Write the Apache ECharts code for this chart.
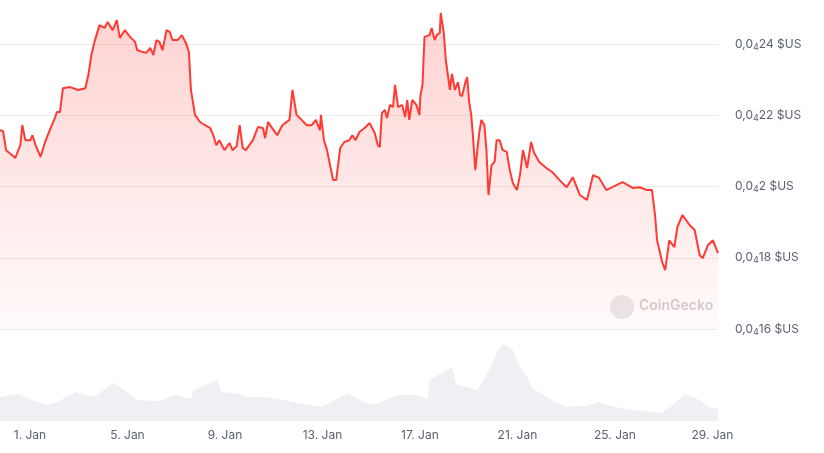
<!DOCTYPE html>
<html>
<head>
	<meta charset="utf-8">
	<title>price chart</title>
	<script src="https://cdn.jsdelivr.net/npm/echarts@6/dist/echarts.min.js"></script>
	<style>
	  html, body { margin: 0; padding: 0; background: #fff; }
	  #chart { width: 824px; height: 453px; }
	</style>
</head>
<body>
<div id="chart"></div>
<script>
	// hours since the first point (Dec 30, ~18:30), price in units of 0.000001 $US
	var startDay = -1.23;   // relative to 1 Jan 00:00
	var priceHours = [0,3,6,12,15,20,22,25,30,32,35,40,44,49,54,56,59,62,69,77,84,87,90,93,98,103,106,111,115,118,123,128,133,135,140,144,148,151,154,157,160,164,167,170,175,179,183,186,188,192,197,202,207,210,213,216,221,226,229,233,236,239,242,249,254,259,261,264,268,273,278,285,288,292,297,302,307,311,315,316,319,322,325,328,331,335,339,344,347,350,354,359,364,369,372,374,376,379,381,384,387,389,392,396,399,401,403,406,410,413,414,416,418,423,425,428,430,433,434,437,439,441,443,445,448,451,453,455,458,460,462,464,466,468,470,472,474,477,479,481,484,487,489,492,495,499,502,505,509,512,515,519,523,526,531,538,544,551,558,564,571,578,584,590,597,603,613,623,630,637,642,645,647,652,655,659,664,667,672,679,684,689,692,697,702,707];
	var priceValues = [21.58,21.56,21.02,20.88,20.8,21.16,21.72,21.3,21.3,21.44,21.16,20.83,21.22,21.58,21.92,22.09,22.09,22.76,22.79,22.71,22.76,23.13,23.69,24.06,24.53,24.45,24.62,24.39,24.67,24.17,24.39,24.2,24.06,23.83,23.78,23.75,23.89,23.69,24.11,24.06,23.83,24.39,24.34,24.11,24.11,24.25,24.03,23.78,22.71,22.01,21.81,21.72,21.64,21.44,21.16,21.3,21.02,21.22,21.02,21.13,21.72,21.08,21.02,21.3,21.67,21.64,21.36,21.81,21.64,21.44,21.72,21.87,22.71,22.01,21.87,21.72,21.72,21.87,21.58,22.01,21.3,21.02,20.6,20.18,20.18,21.08,21.25,21.3,21.44,21.3,21.53,21.64,21.78,21.5,21.16,21.11,22.06,22.15,21.92,22.29,22.23,22.85,22.23,22.29,21.95,22.43,21.87,22.43,22.29,22.01,22.57,22.85,24.2,24.25,24.45,24.11,24.25,24.31,24.87,24.31,23.55,23.13,22.71,23.16,22.71,22.93,22.57,22.54,22.9,23.07,22.37,22.01,21.3,20.46,21.02,21.53,21.87,21.72,21.02,19.76,20.6,20.69,21.3,21.3,21.02,20.97,20.46,20.1,19.9,20.32,21.02,20.52,21.25,20.94,20.69,20.52,20.4,20.18,19.98,20.26,19.76,19.62,20.32,20.24,19.9,19.98,20.12,19.96,19.98,19.9,19.9,19.2,18.49,17.88,17.65,18.49,18.3,18.86,19.2,18.92,18.78,18.07,17.99,18.35,18.49,18.13];

	var volumeHours = [0,19,28,46,56,75,93,111,121,135,158,172,188,191,205,214,218,237,242,261,279,293,317,326,342,358,368,382,391,409,421,423,433,445,449,470,474,484,491,496,505,512,519,523,530,547,558,577,590,605,624,651,660,675,689,698,707];
	var volumeValues = [24,27,22,16,19,29,24,38,32,21,20,26,22,31,37,41,29,27,24,24,21,18,14,19,28,19,16,22,26,26,22,41,47,54,37,31,37,56,72,77,71,54,44,34,29,19,14,15,19,14,11,8,14,27,21,14,12];

	var priceTicks = [16, 18, 20, 22, 24];
	var dayTicks = [0, 4, 8, 12, 16, 20, 24, 28];

	function toDays(hours, values){
		var out = [];
		for(var i = 0; i < hours.length; i++){
			out.push([startDay + hours[i] / 24, values[i]]);
		}
		return out;
	}

	var minDay = startDay, maxDay = startDay + 707 / 24;

	var option = {
		animation: false,
		grid: [
			{left: 0, right: 106, top: 44, bottom: 124},
			{left: 0, right: 106, top: 330, bottom: 32}
		],
		xAxis: [
			{
				type: 'value', gridIndex: 0, min: minDay, max: maxDay,
				axisLine: {show: false}, axisTick: {show: false},
				axisLabel: {show: false}, splitLine: {show: false}
			},
			{
				type: 'value', gridIndex: 1, min: minDay, max: maxDay,
				axisLine: {show: false},
				axisTick: {show: true, customValues: dayTicks, length: 5, inside: true, lineStyle: {color: '#e6e8ec'}},
				axisLabel: {
					customValues: dayTicks, color: '#5a6170', fontSize: 12,
					fontFamily: 'Inter', margin: 8,
					formatter: function(d){ return (d + 1) + '. Jan'; }
				},
				splitLine: {show: false}
			}
		],
		yAxis: [
			{
				type: 'value', gridIndex: 0, position: 'right', min: 16, max: 24, interval: 2,
				axisLine: {show: false}, axisTick: {show: false},
				splitLine: {lineStyle: {color: '#ececec'}},
				axisLabel: {
					margin: 17, color: '#5a6170', fontFamily: 'Inter', fontSize: 12,
					verticalAlign: 'middle',
					formatter: function(v){ return '0,0{s|4}' + String(v).replace(/0$/, '') + ' $US'; },
					rich: {s: {fontSize: 9, verticalAlign: 'bottom', padding: [6, 0, 0, 0], color: '#5a6170', fontFamily: 'Inter'}}
				}
			},
			{
				type: 'value', gridIndex: 1, min: 0, max: 91,
				axisLine: {show: false}, axisTick: {show: false},
				axisLabel: {show: false}, splitLine: {show: false}
			}
		],
		graphic: [
			{type: 'circle', left: 610, top: 295, shape: {r: 12}, style: {fill: '#e9e9e9'}},
			{type: 'text', left: 639, top: 299, style: {text: 'CoinGecko', fill: '#d0d0d0', font: '600 14px Inter'}}
		],
		series: [
			{
				type: 'line', xAxisIndex: 1, yAxisIndex: 1,
				data: toDays(volumeHours, volumeValues),
				symbol: 'none', lineStyle: {width: 0},
				areaStyle: {color: '#eef0f4', opacity: 1}
			},
			{
				type: 'line', xAxisIndex: 0, yAxisIndex: 0, clip: false,
				data: toDays(priceHours, priceValues),
				symbol: 'none',
				lineStyle: {color: '#ff3a33', width: 2},
				areaStyle: {
					origin: 'start',
					color: new echarts.graphic.LinearGradient(0, 0, 0, 1, [
						{offset: 0, color: 'rgba(255,58,51,0.32)'},
						{offset: 1, color: 'rgba(255,58,51,0.03)'}
					])
				}
			}
		]
	};

	var myChart = echarts.init(document.getElementById('chart'));
	myChart.setOption(option);
</script>
</body>
</html>
